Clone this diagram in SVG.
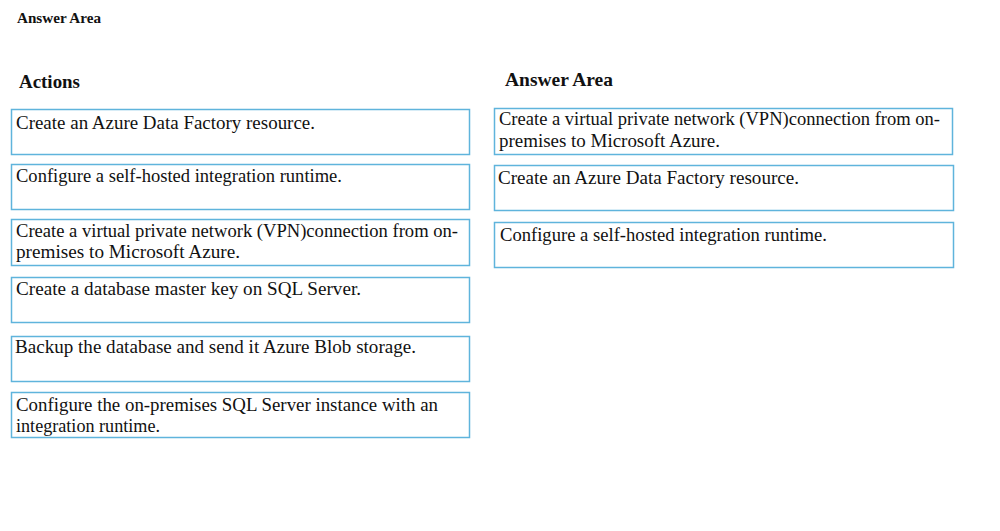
<svg xmlns="http://www.w3.org/2000/svg" width="1000" height="531" viewBox="0 0 1000 531">
<style>
.box{fill:#fff;stroke:#5fb4dc;stroke-width:1.5}
.t{font-family:"Liberation Serif","Times New Roman",serif;font-size:18.5px;fill:#111}
.h{font-family:"Liberation Serif","Times New Roman",serif;font-weight:bold;fill:#111}
</style>
<rect width="1000" height="531" fill="#fff"/>
<text class="h" x="17" y="23" font-size="15" textLength="84" lengthAdjust="spacingAndGlyphs">Answer Area</text>
<text class="h" x="19" y="88" font-size="19" textLength="61" lengthAdjust="spacingAndGlyphs">Actions</text>
<text class="h" x="505" y="86" font-size="19" textLength="108" lengthAdjust="spacingAndGlyphs">Answer Area</text>
<g id="a1"><rect class="box" x="11.5" y="109.5" width="458" height="45"/><text class="t" x="16" y="129" textLength="299" lengthAdjust="spacingAndGlyphs">Create an Azure Data Factory resource.</text></g>
<g id="a2"><rect class="box" x="11.5" y="164.5" width="458" height="45"/><text class="t" x="16" y="182" textLength="326" lengthAdjust="spacingAndGlyphs">Configure a self-hosted integration runtime.</text></g>
<g id="a3"><rect class="box" x="11.5" y="219.5" width="458" height="46"/><text class="t" x="16" y="237" textLength="442" lengthAdjust="spacingAndGlyphs">Create a virtual private network (VPN)connection from on-</text><text class="t" x="16" y="258" textLength="224" lengthAdjust="spacingAndGlyphs">premises to Microsoft Azure.</text></g>
<g id="a4"><rect class="box" x="11.5" y="277.5" width="458" height="45"/><text class="t" x="16" y="295" textLength="345" lengthAdjust="spacingAndGlyphs">Create a database master key on SQL Server.</text></g>
<g id="a5"><rect class="box" x="11.5" y="336.5" width="458" height="45"/><text class="t" x="15" y="353" textLength="401" lengthAdjust="spacingAndGlyphs">Backup the database and send it Azure Blob storage.</text></g>
<g id="a6"><rect class="box" x="11.5" y="392.5" width="458" height="45"/><text class="t" x="16" y="411" textLength="422" lengthAdjust="spacingAndGlyphs">Configure the on-premises SQL Server instance with an</text><text class="t" x="16" y="432" textLength="144" lengthAdjust="spacingAndGlyphs">integration runtime.</text></g>
<g id="r1"><rect class="box" x="494.5" y="108.5" width="458" height="46"/><text class="t" x="499" y="125" textLength="441" lengthAdjust="spacingAndGlyphs">Create a virtual private network (VPN)connection from on-</text><text class="t" x="499" y="147" textLength="221" lengthAdjust="spacingAndGlyphs">premises to Microsoft Azure.</text></g>
<g id="r2"><rect class="box" x="494.5" y="165.5" width="459" height="45"/><text class="t" x="498" y="184" textLength="301" lengthAdjust="spacingAndGlyphs">Create an Azure Data Factory resource.</text></g>
<g id="r3"><rect class="box" x="494.5" y="222.5" width="459" height="45"/><text class="t" x="500" y="241" textLength="327" lengthAdjust="spacingAndGlyphs">Configure a self-hosted integration runtime.</text></g>
<g id="connectors"></g>
</svg>
